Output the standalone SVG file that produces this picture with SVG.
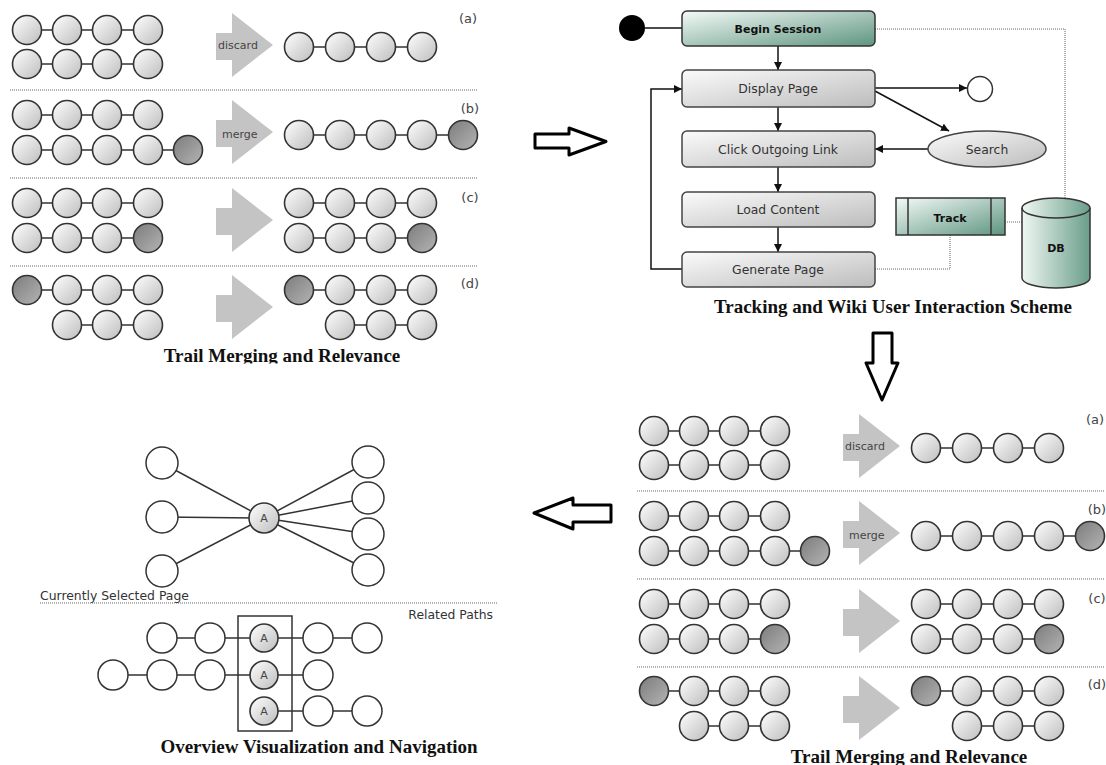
<svg xmlns="http://www.w3.org/2000/svg" width="1106" height="765" viewBox="0 0 1106 765">
<defs>
<linearGradient id="gL" x1="0" y1="0" x2="1" y2="1"><stop offset="0" stop-color="#ffffff"/><stop offset="1" stop-color="#bdbdbd"/></linearGradient>
<linearGradient id="gD" x1="0" y1="0" x2="1" y2="1"><stop offset="0" stop-color="#7c7c7c"/><stop offset="1" stop-color="#b4b4b4"/></linearGradient>
<linearGradient id="gBox" x1="0" y1="0" x2="1" y2="1"><stop offset="0" stop-color="#fbfbfb"/><stop offset="1" stop-color="#bcbcbc"/></linearGradient>
<linearGradient id="gTeal" x1="0" y1="0" x2="1" y2="1"><stop offset="0" stop-color="#f4faf7"/><stop offset="1" stop-color="#5e9581"/></linearGradient>
<linearGradient id="gDB" x1="0" y1="0" x2="1" y2="0"><stop offset="0" stop-color="#f0f7f3"/><stop offset="1" stop-color="#6a9e8a"/></linearGradient>
<clipPath id="clipT" clipPathUnits="userSpaceOnUse"><rect x="0" y="0" width="1106" height="363.5"/></clipPath>
<marker id="ah" viewBox="0 0 10 10" refX="10" refY="5" markerWidth="8" markerHeight="8" markerUnits="userSpaceOnUse" orient="auto"><path d="M0,0 L10,5 L0,10 z" fill="#111"/></marker>
</defs>
<style>
.c{fill:url(#gL);stroke:#333;stroke-width:1.6}
.d{fill:url(#gD);stroke:#333;stroke-width:1.6}
.w{fill:#fff;stroke:#333;stroke-width:1.5}
.ln{stroke:#333;stroke-width:1.5;fill:none}
.dot{stroke:#666;stroke-width:1;stroke-dasharray:1 1;fill:none}
.ga{fill:#c4c4c4}
.lab{font-family:"DejaVu Sans",sans-serif;font-size:11px;fill:#444}
.pl{font-family:"DejaVu Sans",sans-serif;font-size:13px;fill:#444}
.sm{font-family:"DejaVu Sans",sans-serif;font-size:12.4px;fill:#333}
.bx{fill:url(#gBox);stroke:#444;stroke-width:1.5}
.tl{fill:url(#gTeal);stroke:#333;stroke-width:1.5}
.bt{font-family:"DejaVu Sans",sans-serif;font-size:11px;font-weight:bold;fill:#111}
.title{font-family:"Liberation Serif",serif;font-size:19px;font-weight:bold;fill:#111}
.fl{stroke:#111;stroke-width:1.5;fill:none}
.big{fill:#fff;stroke:#000;stroke-width:3;stroke-linejoin:round}
</style>
<rect width="1106" height="765" fill="#fff"/>

<g id="connectors">
  <g id="tl-lines">
    <path class="ln" d="M27 30H148M27 64H148M299 47H422M27 115H148M27 150H188M299 135H463M27 203H148M27 238H148M299 203H422M299 238H422M27 290H148M67 325H148M299 290H422M340 325H422"/>
  </g>
  <g id="br-lines" transform="translate(627,401)">
    <path class="ln" d="M27 30H148M27 64H148M299 47H422M27 115H148M27 150H188M299 135H463M27 203H148M27 238H148M299 203H422M299 238H422M27 290H148M67 325H148M299 290H422M340 325H422"/>
  </g>
  <g id="flow-lines">
    <line class="fl" x1="645" y1="28" x2="682" y2="28"/>
    <line class="fl" x1="778" y1="46" x2="778" y2="70" marker-end="url(#ah)"/>
    <line class="fl" x1="778" y1="107" x2="778" y2="131" marker-end="url(#ah)"/>
    <line class="fl" x1="778" y1="167" x2="778" y2="192" marker-end="url(#ah)"/>
    <line class="fl" x1="778" y1="227" x2="778" y2="252" marker-end="url(#ah)"/>
    <line class="fl" x1="875" y1="88" x2="967" y2="88" marker-end="url(#ah)"/>
    <line class="fl" x1="875" y1="91" x2="949" y2="131" marker-end="url(#ah)"/>
    <line class="fl" x1="928" y1="149" x2="875" y2="149" marker-end="url(#ah)"/>
    <path class="fl" d="M682 269H651V89H682" marker-end="url(#ah)"/>
    <path class="dot" d="M875 29H1065V198"/>
    <path class="dot" d="M875 269H950V235"/>
    <path class="dot" d="M1005 222H1022"/>
  </g>
  <g id="star-lines">
    <path class="ln" d="M264 518L162 463M264 518L162 517M264 518L162 571M264 518L368 462M264 518L368 498M264 518L368 534M264 518L368 570"/>
    <path class="ln" d="M162 638H367M113 675H318M264 711H367"/>
  </g>
</g>

<g id="panel-tl">
  <g id="tl-a">
    <g id="tl-a-in1"><circle class="c" cx="27" cy="30" r="14.5"/><circle class="c" cx="67" cy="30" r="14.5"/><circle class="c" cx="107" cy="30" r="14.5"/><circle class="c" cx="148" cy="30" r="14.5"/></g>
    <g id="tl-a-in2"><circle class="c" cx="27" cy="64" r="14.5"/><circle class="c" cx="67" cy="64" r="14.5"/><circle class="c" cx="107" cy="64" r="14.5"/><circle class="c" cx="148" cy="64" r="14.5"/></g>
    <g id="tl-a-arrow"><polygon class="ga" points="216,33 232,33 232,13 273,45 232,77 232,60 216,60"/><text class="lab" x="218" y="49">discard</text></g>
    <g id="tl-a-out"><circle class="c" cx="299" cy="47" r="14.5"/><circle class="c" cx="340" cy="47" r="14.5"/><circle class="c" cx="381" cy="47" r="14.5"/><circle class="c" cx="422" cy="47" r="14.5"/></g>
    <text class="pl" x="468" y="23" text-anchor="middle">(a)</text>
  </g>
  <line class="dot" x1="10" y1="90" x2="478" y2="90"/>
  <g id="tl-b">
    <g id="tl-b-in1"><circle class="c" cx="27" cy="115" r="14.5"/><circle class="c" cx="67" cy="115" r="14.5"/><circle class="c" cx="107" cy="115" r="14.5"/><circle class="c" cx="148" cy="115" r="14.5"/></g>
    <g id="tl-b-in2"><circle class="c" cx="27" cy="150" r="14.5"/><circle class="c" cx="67" cy="150" r="14.5"/><circle class="c" cx="107" cy="150" r="14.5"/><circle class="c" cx="148" cy="150" r="14.5"/><circle class="d" cx="188" cy="150" r="14.5"/></g>
    <g id="tl-b-arrow"><polygon class="ga" points="216,120 232,120 232,100 273,132 232,164 232,147 216,147"/><text class="lab" x="222" y="138">merge</text></g>
    <g id="tl-b-out"><circle class="c" cx="299" cy="135" r="14.5"/><circle class="c" cx="340" cy="135" r="14.5"/><circle class="c" cx="381" cy="135" r="14.5"/><circle class="c" cx="422" cy="135" r="14.5"/><circle class="d" cx="463" cy="135" r="14.5"/></g>
    <text class="pl" x="470" y="113" text-anchor="middle">(b)</text>
  </g>
  <line class="dot" x1="10" y1="178" x2="478" y2="178"/>
  <g id="tl-c">
    <g id="tl-c-in1"><circle class="c" cx="27" cy="203" r="14.5"/><circle class="c" cx="67" cy="203" r="14.5"/><circle class="c" cx="107" cy="203" r="14.5"/><circle class="c" cx="148" cy="203" r="14.5"/></g>
    <g id="tl-c-in2"><circle class="c" cx="27" cy="238" r="14.5"/><circle class="c" cx="67" cy="238" r="14.5"/><circle class="c" cx="107" cy="238" r="14.5"/><circle class="d" cx="148" cy="238" r="14.5"/></g>
    <g id="tl-c-arrow"><polygon class="ga" points="216,208 232,208 232,188 273,220 232,252 232,235 216,235"/></g>
    <g id="tl-c-out1"><circle class="c" cx="299" cy="203" r="14.5"/><circle class="c" cx="340" cy="203" r="14.5"/><circle class="c" cx="381" cy="203" r="14.5"/><circle class="c" cx="422" cy="203" r="14.5"/></g>
    <g id="tl-c-out2"><circle class="c" cx="299" cy="238" r="14.5"/><circle class="c" cx="340" cy="238" r="14.5"/><circle class="c" cx="381" cy="238" r="14.5"/><circle class="d" cx="422" cy="238" r="14.5"/></g>
    <text class="pl" x="470" y="202" text-anchor="middle">(c)</text>
  </g>
  <line class="dot" x1="10" y1="266" x2="478" y2="266"/>
  <g id="tl-d">
    <g id="tl-d-in1"><circle class="d" cx="27" cy="290" r="14.5"/><circle class="c" cx="67" cy="290" r="14.5"/><circle class="c" cx="107" cy="290" r="14.5"/><circle class="c" cx="148" cy="290" r="14.5"/></g>
    <g id="tl-d-in2"><circle class="c" cx="67" cy="325" r="14.5"/><circle class="c" cx="107" cy="325" r="14.5"/><circle class="c" cx="148" cy="325" r="14.5"/></g>
    <g id="tl-d-arrow"><polygon class="ga" points="216,295 232,295 232,275 273,307 232,339 232,322 216,322"/></g>
    <g id="tl-d-out1"><circle class="d" cx="299" cy="290" r="14.5"/><circle class="c" cx="340" cy="290" r="14.5"/><circle class="c" cx="381" cy="290" r="14.5"/><circle class="c" cx="422" cy="290" r="14.5"/></g>
    <g id="tl-d-out2"><circle class="c" cx="340" cy="325" r="14.5"/><circle class="c" cx="381" cy="325" r="14.5"/><circle class="c" cx="422" cy="325" r="14.5"/></g>
    <text class="pl" x="470" y="288" text-anchor="middle">(d)</text>
  </g>
  <text class="title" x="282" y="362" text-anchor="middle" clip-path="url(#clipT)">Trail Merging and Relevance</text>
</g>

<g id="panel-br" transform="translate(627,401)">
  <g id="br-a">
    <g id="br-a-in1"><circle class="c" cx="27" cy="30" r="14.5"/><circle class="c" cx="67" cy="30" r="14.5"/><circle class="c" cx="107" cy="30" r="14.5"/><circle class="c" cx="148" cy="30" r="14.5"/></g>
    <g id="br-a-in2"><circle class="c" cx="27" cy="64" r="14.5"/><circle class="c" cx="67" cy="64" r="14.5"/><circle class="c" cx="107" cy="64" r="14.5"/><circle class="c" cx="148" cy="64" r="14.5"/></g>
    <g id="br-a-arrow"><polygon class="ga" points="216,33 232,33 232,13 273,45 232,77 232,60 216,60"/><text class="lab" x="218" y="49">discard</text></g>
    <g id="br-a-out"><circle class="c" cx="299" cy="47" r="14.5"/><circle class="c" cx="340" cy="47" r="14.5"/><circle class="c" cx="381" cy="47" r="14.5"/><circle class="c" cx="422" cy="47" r="14.5"/></g>
    <text class="pl" x="468" y="23" text-anchor="middle">(a)</text>
  </g>
  <line class="dot" x1="10" y1="90" x2="478" y2="90"/>
  <g id="br-b">
    <g id="br-b-in1"><circle class="c" cx="27" cy="115" r="14.5"/><circle class="c" cx="67" cy="115" r="14.5"/><circle class="c" cx="107" cy="115" r="14.5"/><circle class="c" cx="148" cy="115" r="14.5"/></g>
    <g id="br-b-in2"><circle class="c" cx="27" cy="150" r="14.5"/><circle class="c" cx="67" cy="150" r="14.5"/><circle class="c" cx="107" cy="150" r="14.5"/><circle class="c" cx="148" cy="150" r="14.5"/><circle class="d" cx="188" cy="150" r="14.5"/></g>
    <g id="br-b-arrow"><polygon class="ga" points="216,120 232,120 232,100 273,132 232,164 232,147 216,147"/><text class="lab" x="222" y="138">merge</text></g>
    <g id="br-b-out"><circle class="c" cx="299" cy="135" r="14.5"/><circle class="c" cx="340" cy="135" r="14.5"/><circle class="c" cx="381" cy="135" r="14.5"/><circle class="c" cx="422" cy="135" r="14.5"/><circle class="d" cx="463" cy="135" r="14.5"/></g>
    <text class="pl" x="470" y="113" text-anchor="middle">(b)</text>
  </g>
  <line class="dot" x1="10" y1="178" x2="478" y2="178"/>
  <g id="br-c">
    <g id="br-c-in1"><circle class="c" cx="27" cy="203" r="14.5"/><circle class="c" cx="67" cy="203" r="14.5"/><circle class="c" cx="107" cy="203" r="14.5"/><circle class="c" cx="148" cy="203" r="14.5"/></g>
    <g id="br-c-in2"><circle class="c" cx="27" cy="238" r="14.5"/><circle class="c" cx="67" cy="238" r="14.5"/><circle class="c" cx="107" cy="238" r="14.5"/><circle class="d" cx="148" cy="238" r="14.5"/></g>
    <g id="br-c-arrow"><polygon class="ga" points="216,208 232,208 232,188 273,220 232,252 232,235 216,235"/></g>
    <g id="br-c-out1"><circle class="c" cx="299" cy="203" r="14.5"/><circle class="c" cx="340" cy="203" r="14.5"/><circle class="c" cx="381" cy="203" r="14.5"/><circle class="c" cx="422" cy="203" r="14.5"/></g>
    <g id="br-c-out2"><circle class="c" cx="299" cy="238" r="14.5"/><circle class="c" cx="340" cy="238" r="14.5"/><circle class="c" cx="381" cy="238" r="14.5"/><circle class="d" cx="422" cy="238" r="14.5"/></g>
    <text class="pl" x="470" y="202" text-anchor="middle">(c)</text>
  </g>
  <line class="dot" x1="10" y1="266" x2="478" y2="266"/>
  <g id="br-d">
    <g id="br-d-in1"><circle class="d" cx="27" cy="290" r="14.5"/><circle class="c" cx="67" cy="290" r="14.5"/><circle class="c" cx="107" cy="290" r="14.5"/><circle class="c" cx="148" cy="290" r="14.5"/></g>
    <g id="br-d-in2"><circle class="c" cx="67" cy="325" r="14.5"/><circle class="c" cx="107" cy="325" r="14.5"/><circle class="c" cx="148" cy="325" r="14.5"/></g>
    <g id="br-d-arrow"><polygon class="ga" points="216,295 232,295 232,275 273,307 232,339 232,322 216,322"/></g>
    <g id="br-d-out1"><circle class="d" cx="299" cy="290" r="14.5"/><circle class="c" cx="340" cy="290" r="14.5"/><circle class="c" cx="381" cy="290" r="14.5"/><circle class="c" cx="422" cy="290" r="14.5"/></g>
    <g id="br-d-out2"><circle class="c" cx="340" cy="325" r="14.5"/><circle class="c" cx="381" cy="325" r="14.5"/><circle class="c" cx="422" cy="325" r="14.5"/></g>
    <text class="pl" x="470" y="288" text-anchor="middle">(d)</text>
  </g>
  <text class="title" x="282" y="362" text-anchor="middle">Trail Merging and Relevance</text>
</g>

<g id="flowchart">
  <g id="start"><circle cx="632" cy="28" r="13" fill="#000"/></g>
  <g id="begin-session"><rect class="tl" x="682" y="11" width="193" height="35" rx="5"/><text class="bt" x="778" y="32.5" text-anchor="middle">Begin Session</text></g>
  <g id="display-page"><rect class="bx" x="682" y="70" width="193" height="37" rx="5"/><text class="sm" x="778" y="93" text-anchor="middle">Display Page</text></g>
  <g id="end"><circle class="w" cx="980" cy="89" r="12.5"/></g>
  <g id="click-link"><rect class="bx" x="682" y="131" width="193" height="36" rx="5"/><text class="sm" x="778" y="153.5" text-anchor="middle">Click Outgoing Link</text></g>
  <g id="search"><ellipse cx="987" cy="149" rx="59" ry="18" fill="url(#gBox)" stroke="#444" stroke-width="1.5"/><text class="sm" x="987" y="153.5" text-anchor="middle">Search</text></g>
  <g id="load-content"><rect class="bx" x="682" y="192" width="193" height="35" rx="5"/><text class="sm" x="778" y="214" text-anchor="middle">Load Content</text></g>
  <g id="generate-page"><rect class="bx" x="682" y="252" width="193" height="35" rx="5"/><text class="sm" x="778" y="274" text-anchor="middle">Generate Page</text></g>
  <g id="track"><rect class="tl" x="896" y="198" width="109" height="37"/><line x1="908" y1="198" x2="908" y2="235" stroke="#333" stroke-width="1.5"/><line x1="991" y1="198" x2="991" y2="235" stroke="#333" stroke-width="1.5"/><text class="bt" x="950" y="222" text-anchor="middle">Track</text></g>
  <g id="db"><path d="M1022 208A34 10 0 0 1 1090 208V278A34 10 0 0 1 1022 278Z" fill="url(#gDB)" stroke="#333" stroke-width="1.5"/><path d="M1022 208A34 10 0 0 0 1090 208" fill="none" stroke="#333" stroke-width="1.5"/><text class="bt" x="1056" y="252" text-anchor="middle">DB</text></g>
  <text class="title" x="893" y="313" text-anchor="middle">Tracking and Wiki User Interaction Scheme</text>
</g>

<g id="big-arrows">
  <polygon id="arrow-right" class="big" points="535,134 569,134 569,128 606,141.5 569,155 569,148 535,148"/>
  <polygon id="arrow-down" class="big" points="873,333 892,333 892,363 898,363 882,400 866,363 873,363"/>
  <polygon id="arrow-left" class="big" points="534,513 573,498 573,505 611,505 611,522 573,522 573,529"/>
</g>

<g id="overview">
  <g id="sel-left"><circle class="w" cx="162" cy="463" r="16"/><circle class="w" cx="162" cy="517" r="16"/><circle class="w" cx="162" cy="571" r="16"/></g>
  <g id="sel-right"><circle class="w" cx="368" cy="462" r="16"/><circle class="w" cx="368" cy="498" r="16"/><circle class="w" cx="368" cy="534" r="16"/><circle class="w" cx="368" cy="570" r="16"/></g>
  <g id="sel-a"><circle class="c" cx="264" cy="518" r="15"/><text class="lab" x="264" y="522" text-anchor="middle">A</text></g>
  <text class="sm" x="40" y="600">Currently Selected Page</text>
  <line class="dot" x1="40" y1="603" x2="497" y2="603"/>
  <text class="sm" x="493" y="619" text-anchor="end">Related Paths</text>
  <g id="path-1"><circle class="w" cx="162" cy="638" r="15"/><circle class="w" cx="210" cy="638" r="15"/><circle class="c" cx="264" cy="638" r="14"/><text class="lab" x="264" y="642" text-anchor="middle">A</text><circle class="w" cx="318" cy="638" r="15"/><circle class="w" cx="367" cy="638" r="15"/></g>
  <g id="path-2"><circle class="w" cx="113" cy="675" r="15"/><circle class="w" cx="162" cy="675" r="15"/><circle class="w" cx="210" cy="675" r="15"/><circle class="c" cx="264" cy="675" r="14"/><text class="lab" x="264" y="679" text-anchor="middle">A</text><circle class="w" cx="318" cy="675" r="15"/></g>
  <g id="path-3"><circle class="c" cx="264" cy="711" r="14"/><text class="lab" x="264" y="715" text-anchor="middle">A</text><circle class="w" cx="318" cy="711" r="15"/><circle class="w" cx="367" cy="711" r="15"/></g>
  <g id="sel-box"><rect x="238" y="616" width="54" height="115" fill="none" stroke="#333" stroke-width="1.5"/></g>
  <text class="title" x="319" y="753" text-anchor="middle">Overview Visualization and Navigation</text>
</g>
</svg>
